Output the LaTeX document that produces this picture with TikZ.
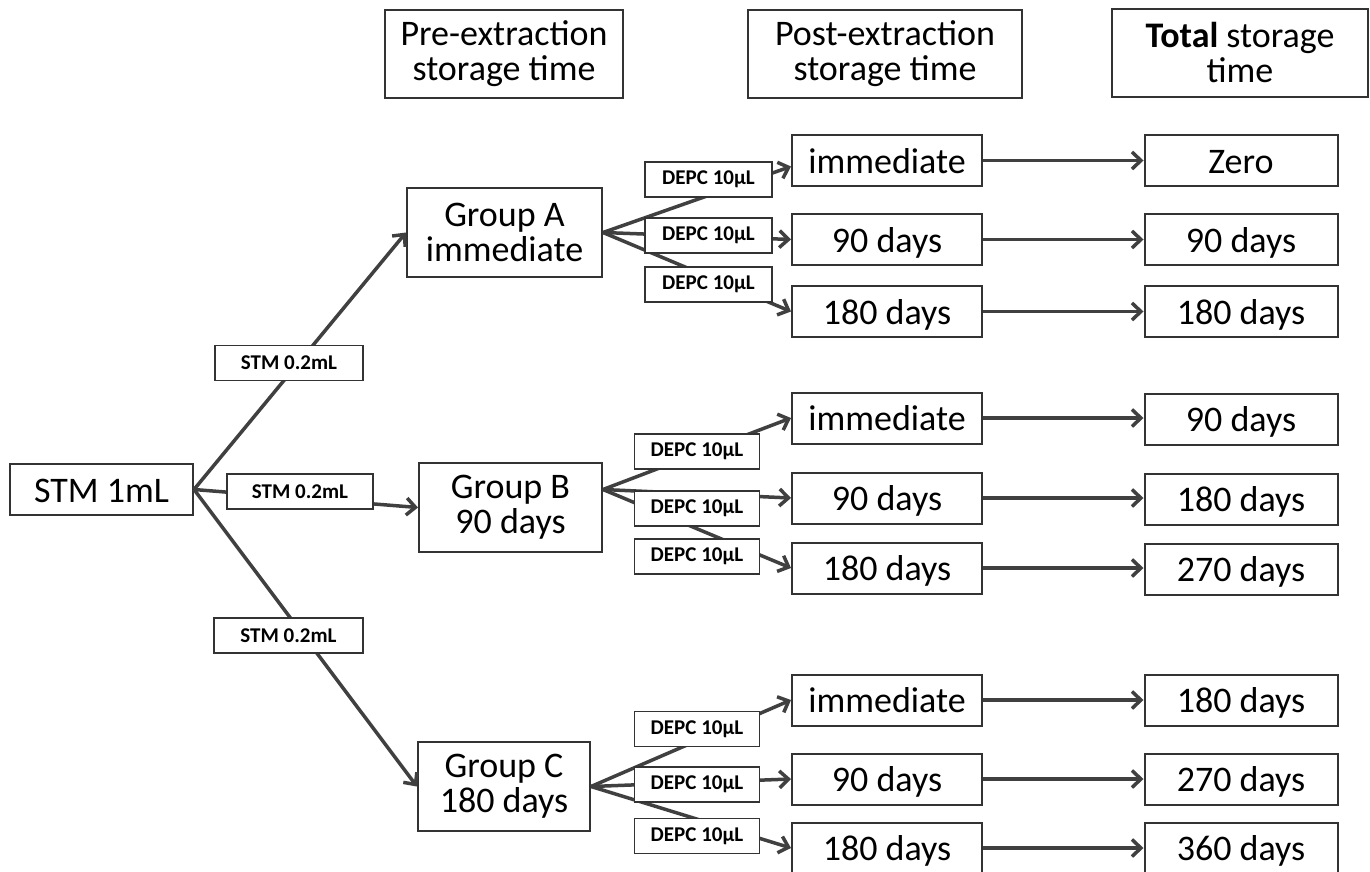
\documentclass[tikz,border=0pt]{standalone}
\usepackage{fontspec}
\setmainfont{Carlito}
\usetikzlibrary{arrows.meta,positioning,calc}

\tikzset{
  box/.style={rectangle,draw=black!80,line width=2pt,fill=white,inner sep=0pt,
    align=center,font=\fontsize{36}{35}\selectfont},
  cell/.style={box,text height=31pt,text depth=6pt},
  tag/.style={rectangle,draw=black!80,line width=1.8pt,fill=white,inner sep=0pt,
    minimum height=35pt,font=\bfseries\fontsize{21}{21}\selectfont},
  link/.style={draw=black!75,line width=3.5pt,-{Straight Barb[length=9pt,width=17pt]}},
}

\begin{document}
\begin{tikzpicture}[x=1pt,y=-1pt]
\useasboundingbox (0,0) rectangle (1370,872);

% Headers
\node[box,minimum width=238pt,minimum height=88pt] (hPre) at (504,54) {Pre-extraction\\storage time};
\node[box,minimum width=274pt,minimum height=88pt] (hPost) at (885,54) {Post-extraction\\storage time};
\node[box,minimum width=256pt,minimum height=88pt] (hTot) at (1240,53) {\textbf{Total} storage\\time};

% Sample
\node[cell,minimum width=183pt,minimum height=51pt] (stm) at (101.5,489.5) {STM 1mL};

% Groups
\node[box,minimum width=195pt,minimum height=89pt] (gA) at (504.5,232.5) {Group A\\immediate};
\node[box,minimum width=183pt,minimum height=89pt] (gB) at (510.5,507.5) {Group B\\90 days};
\node[box,minimum width=172pt,minimum height=89pt] (gC) at (504,786.5) {Group C\\180 days};

% Post-extraction column
\node[cell,minimum width=190pt,minimum height=51pt] (mA1) at (887,160.5) {immediate};
\node[cell,minimum width=190pt,minimum height=51pt] (mA2) at (887,239.5) {90 days};
\node[cell,minimum width=190pt,minimum height=51pt] (mA3) at (887,311.5) {180 days};
\node[cell,minimum width=190pt,minimum height=51pt] (mB1) at (887,418) {immediate};
\node[cell,minimum width=190pt,minimum height=51pt] (mB2) at (887,498) {90 days};
\node[cell,minimum width=190pt,minimum height=51pt] (mB3) at (887,568) {180 days};
\node[cell,minimum width=190pt,minimum height=51pt] (mC1) at (887,700) {immediate};
\node[cell,minimum width=190pt,minimum height=51pt] (mC2) at (887,779) {90 days};
\node[cell,minimum width=190pt,minimum height=51pt] (mC3) at (887,848) {180 days};

% Total column
\node[cell,minimum width=193pt,minimum height=51pt] (tA1) at (1241,160.5) {Zero};
\node[cell,minimum width=193pt,minimum height=51pt] (tA2) at (1241,239.5) {90 days};
\node[cell,minimum width=193pt,minimum height=51pt] (tA3) at (1241,311.5) {180 days};
\node[cell,minimum width=193pt,minimum height=51pt] (tB1) at (1241,419) {90 days};
\node[cell,minimum width=193pt,minimum height=51pt] (tB2) at (1241,499) {180 days};
\node[cell,minimum width=193pt,minimum height=51pt] (tB3) at (1241,569) {270 days};
\node[cell,minimum width=193pt,minimum height=51pt] (tC1) at (1241,700) {180 days};
\node[cell,minimum width=193pt,minimum height=51pt] (tC2) at (1241,779) {270 days};
\node[cell,minimum width=193pt,minimum height=51pt] (tC3) at (1241,848) {360 days};

% Sample to groups
\draw[link] (stm.east) -- (gA.west);
\draw[link] (stm.east) -- (gB.west);
\draw[link] (stm.east) -- (gC.west);

% Groups to post-extraction
\draw[link] (gA.east) -- ($(mA1.west)+(0,6)$);
\draw[link] (gA.east) -- (mA2.west);
\draw[link] (gA.east) -- (mA3.west);
\draw[link] ($(gB.east)+(0,-18)$) -- (mB1.west);
\draw[link] ($(gB.east)+(0,-18)$) -- (mB2.west);
\draw[link] ($(gB.east)+(0,-18)$) -- (mB3.west);
\draw[link] (gC.east) -- (mC1.west);
\draw[link] (gC.east) -- (mC2.west);
\draw[link] (gC.east) -- (mC3.west);

% Post-extraction to total
\foreach \g in {A,B,C}
  \foreach \i in {1,2,3}
    \draw[link] (m\g\i.east) -- (m\g\i.east -| t\g\i.west);

% Volume labels
\node[tag,minimum width=148pt] (sA) at (289,363) {STM 0.2mL};
\node[tag,minimum width=146pt] (sB) at (300,491.5) {STM 0.2mL};
\node[tag,minimum width=149pt] (sC) at (288.5,635.5) {STM 0.2mL};

\node[tag,minimum width=127pt] (dA1) at (708.5,179.5) {DEPC 10µL};
\node[tag,minimum width=127pt] (dA2) at (708.5,235.5) {DEPC 10µL};
\node[tag,minimum width=127pt] (dA3) at (708.5,284.5) {DEPC 10µL};
\node[tag,minimum width=125pt] (dB1) at (697,451.5) {DEPC 10µL};
\node[tag,minimum width=125pt] (dB2) at (697,508.5) {DEPC 10µL};
\node[tag,minimum width=125pt] (dB3) at (697,556.5) {DEPC 10µL};
\node[tag,minimum width=125pt] (dC1) at (697,729) {DEPC 10µL};
\node[tag,minimum width=125pt] (dC2) at (697,784.5) {DEPC 10µL};
\node[tag,minimum width=125pt] (dC3) at (697,836) {DEPC 10µL};
\end{tikzpicture}
\end{document}
